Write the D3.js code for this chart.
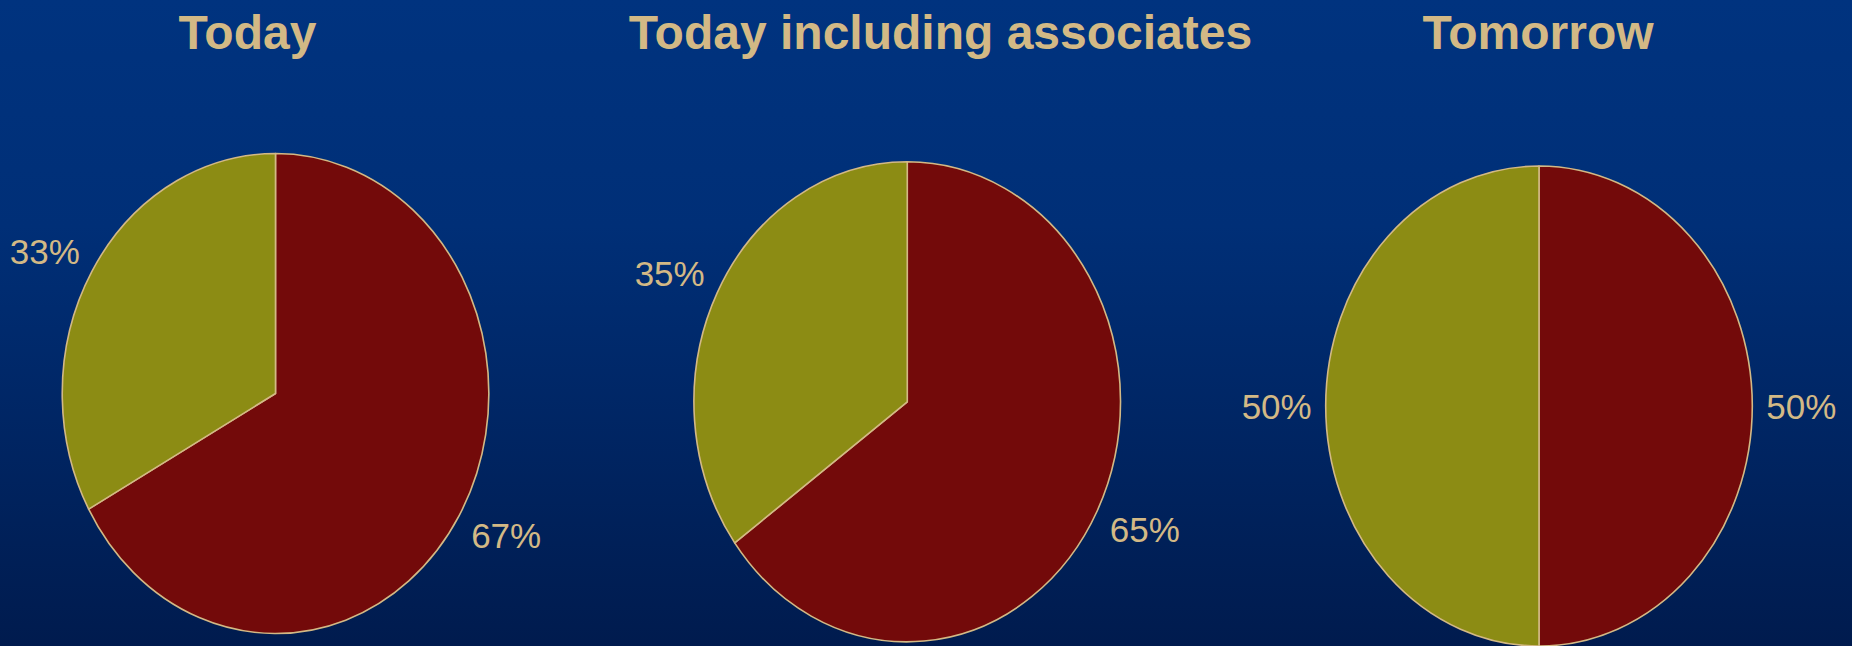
<!DOCTYPE html>
<html>
<head>
<meta charset="utf-8">
<script src="https://cdn.jsdelivr.net/npm/d3@7"></script>
<style>
  html, body { margin: 0; padding: 0; background: #002a6c; }
  svg { display: block; }
</style>
</head>
<body>
<script>
// Chart titles, one per pie
const titles = ["Today", "Today including associates", "Tomorrow"];
// Share (%) per segment, in drawing order clockwise from 12 o'clock
const segments = ["Red", "Olive"];
const redShare = [67, 65, 50];
const oliveShare = [33, 35, 50];

const W = 1852, H = 646;
const tan = "#d3b985";
const segColor = d3.scaleOrdinal().domain(segments).range(["#730a0a", "#8c8c14"]);

const svg = d3.select("body").append("svg").attr("width", W).attr("height", H);

const defs = svg.append("defs");
const grad = defs.append("linearGradient").attr("id", "bg").attr("x1", 0).attr("y1", 0).attr("x2", 0).attr("y2", 1);
grad.append("stop").attr("offset", "0%").attr("stop-color", "#00337f");
grad.append("stop").attr("offset", "35%").attr("stop-color", "#002f77");
grad.append("stop").attr("offset", "100%").attr("stop-color", "#001b4e");
svg.append("rect").attr("width", W).attr("height", H).attr("fill", "url(#bg)");

// Layout of the three pies (slightly oval)
const centerX = d3.scalePoint().domain(titles).range([275.5, 1539]);
const centerY = d3.scaleOrdinal().domain(titles).range([393.5, 401.8, 406]);
const titleX = d3.scaleOrdinal().domain(titles).range([247.5, 940.5, 1538]);
const rx = 213.3, ry = 240;

const pie = d3.pie().sort(null).value(d => d.value);
const arc = d3.arc().innerRadius(0).outerRadius(1);

const labelSize = 35, capH = labelSize * 0.716, gap = 14;

titles.forEach((t, i) => {
  const data = [
    { key: segments[0], value: redShare[i] },
    { key: segments[1], value: oliveShare[i] }
  ];
  const cx = centerX(t), cy = centerY(t);

  svg.append("text")
    .attr("x", titleX(t)).attr("y", 48.5)
    .attr("text-anchor", "middle")
    .attr("font-family", "Liberation Sans, Arial, sans-serif")
    .attr("font-weight", "bold")
    .attr("font-size", 48)
    .attr("fill", tan)
    .text(t);

  const g = svg.append("g").attr("transform", `translate(${cx},${cy}) scale(${rx},${ry})`);
  const arcs = pie(data);
  g.selectAll("path").data(arcs).join("path")
    .attr("d", arc)
    .attr("fill", d => segColor(d.data.key))
    .attr("stroke", tan)
    .attr("stroke-width", 1.6)
    .attr("stroke-linejoin", "round")
    .attr("vector-effect", "non-scaling-stroke");

  // Percent labels just outside each slice
  arcs.forEach(d => {
    const a = (d.startAngle + d.endAngle) / 2;
    const s = Math.sin(a), c = -Math.cos(a);
    const px = cx + s * rx + s * gap;
    const py = cy + c * ry + c * gap;
    const anchor = Math.abs(s) < 0.1 ? "middle" : (s > 0 ? "start" : "end");
    let base;
    if (Math.abs(c) < 0.1) base = py + capH / 2;
    else if (c > 0) base = py + capH;
    else base = py;
    svg.append("text")
      .attr("x", px).attr("y", base)
      .attr("text-anchor", anchor)
      .attr("font-family", "Liberation Sans, Arial, sans-serif")
      .attr("font-size", labelSize)
      .attr("fill", tan)
      .text(d.data.value + "%");
  });
});
</script>
</body>
</html>
